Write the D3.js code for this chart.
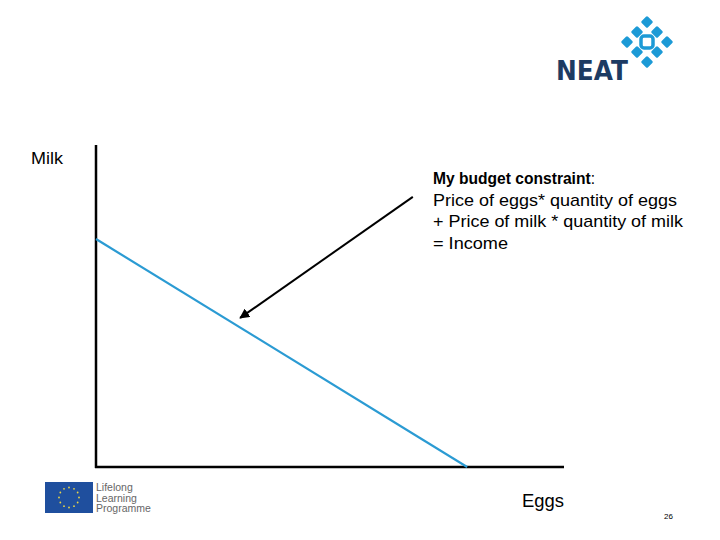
<!DOCTYPE html>
<html><head><meta charset="utf-8">
<script src="https://cdn.jsdelivr.net/npm/d3@7"></script>
<style>body{margin:0;background:#fff}svg{display:block}</style>
</head><body>
<svg id="c" width="720" height="540"></svg>
<script>
// Data
const axisLabels = ["Eggs", "Milk"];
const budgetEggs = [0, 7.93];      // quantity of eggs along budget line
const budgetMilk = [7.08, 0];      // quantity of milk along budget line
const arrowEggs = [6.77, 3.08];
const arrowMilk = [8.39, 4.63];
const noteLines = ["Price of eggs* quantity of eggs", "+ Price of milk * quantity of milk", "= Income"];
const noteTitle = "My budget constraint";
const pageNumber = "26";

const svg = d3.select("#c");
const x = d3.scaleLinear().domain([0, 10]).range([96, 564]);
const y = d3.scaleLinear().domain([0, 10]).range([467, 145]);

const defs = svg.append("defs");
defs.append("marker").attr("id","ah").attr("viewBox","0 0 10 10").attr("refX",9).attr("refY",5)
  .attr("markerWidth",5).attr("markerHeight",5).attr("orient","auto")
  .append("path").attr("d","M0,0L10,5L0,10z").attr("fill","#000");

// axes
svg.append("line").attr("x1",x(0)).attr("y1",y(10)).attr("x2",x(0)).attr("y2",y(0)+1).attr("stroke","#000").attr("stroke-width",2.5);
svg.append("line").attr("x1",x(0)-1).attr("y1",y(0)).attr("x2",x(10)).attr("y2",y(0)).attr("stroke","#000").attr("stroke-width",2.5);

// budget line
const pts = budgetEggs.map((e,i)=>[e,budgetMilk[i]]);
svg.append("path").attr("d", d3.line().x(d=>x(d[0])).y(d=>y(d[1]))(pts))
  .attr("stroke","#2b9bd3").attr("stroke-width",2.2).attr("fill","none");

// arrow
const apts = arrowEggs.map((e,i)=>[e,arrowMilk[i]]);
svg.append("path").attr("d", d3.line().x(d=>x(d[0])).y(d=>y(d[1]))(apts))
  .attr("stroke","#000").attr("stroke-width",2).attr("fill","none").attr("marker-end","url(#ah)");

const font = "Arial, 'Liberation Sans', Helvetica, sans-serif";
svg.append("text").attr("x",31).attr("y",164).attr("font-family",font).attr("font-size",17)
  .attr("textLength",32).attr("lengthAdjust","spacingAndGlyphs").text(axisLabels[1]);
svg.append("text").attr("x",522).attr("y",507).attr("font-family",font).attr("font-size",18)
  .attr("textLength",42).attr("lengthAdjust","spacingAndGlyphs").text(axisLabels[0]);
svg.append("text").attr("x",664).attr("y",519).attr("font-family",font).attr("font-size",8).text(pageNumber);

const t = svg.append("text").attr("x",433).attr("y",184).attr("font-family",font).attr("font-size",15.6);
t.append("tspan").attr("font-weight","bold").text(noteTitle);
t.append("tspan").text(":");
const noteLens = [244, 250, 75];
noteLines.forEach((l,i)=>{
  svg.append("text").attr("x",433).attr("y",206+i*21.3).attr("font-family",font).attr("font-size",17)
    .attr("textLength",noteLens[i]).attr("lengthAdjust","spacingAndGlyphs").text(l);
});

// NEAT logo
svg.append("text").attr("x",556).attr("y",80).attr("font-family","'DejaVu Sans', Arial, sans-serif").attr("font-weight","bold")
  .attr("font-size",26).attr("fill","#1d3b63").attr("textLength",72).attr("lengthAdjust","spacingAndGlyphs").text("NEAT");
const logoC = "#1c9ad6";
const g = svg.append("g").attr("transform","translate(647,42)");
const diamonds = [[0,-20],[-10,-10],[10,-10],[-20,0],[20,0],[-10,10],[10,10],[0,20]];
diamonds.forEach(d=>{
  g.append("rect").attr("x",d[0]-4.5).attr("y",d[1]-4.5).attr("width",9).attr("height",9).attr("rx",1.5)
   .attr("fill",logoC).attr("transform",`rotate(45 ${d[0]} ${d[1]})`);
});
g.append("rect").attr("x",-6).attr("y",-6).attr("width",12).attr("height",12).attr("rx",3)
  .attr("fill","none").attr("stroke",logoC).attr("stroke-width",3.5);

// EU / Lifelong Learning logo
svg.append("rect").attr("x",45).attr("y",482).attr("width",48).attr("height",31).attr("fill","#1f4f9e");
for(let i=0;i<12;i++){
  const a=i/12*2*Math.PI;
  svg.append("circle").attr("cx",69+10*Math.cos(a)).attr("cy",497.5+10*Math.sin(a)).attr("r",0.9).attr("fill","#e8d44a");
}
["Lifelong","Learning","Programme"].forEach((l,i)=>{
  svg.append("text").attr("x",96).attr("y",491+i*10.5).attr("font-family",font).attr("font-size",10.5).attr("fill","#666").text(l);
});
</script>
</body></html>
